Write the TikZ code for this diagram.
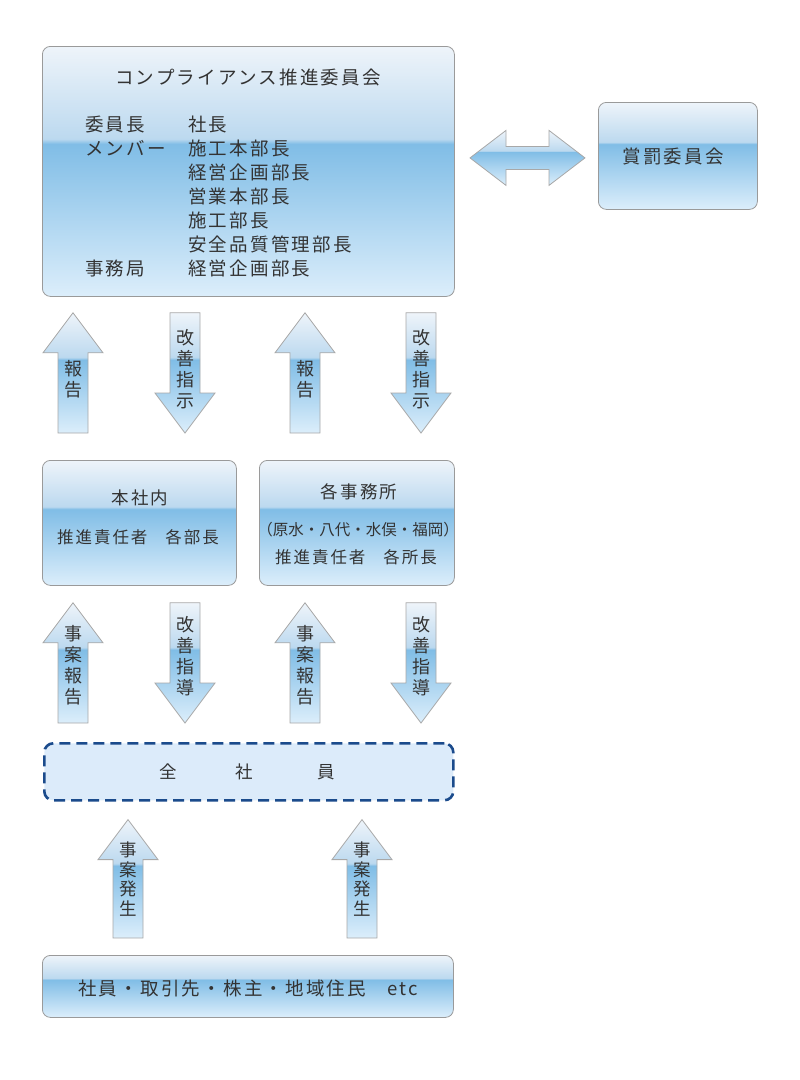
\documentclass[tikz,border=0pt]{standalone}
\usepackage{fontspec}
\setmainfont{Noto Sans CJK JP}[LetterSpace=12]
\newfontfamily\tightjp{Noto Sans CJK JP}
\usetikzlibrary{calc,positioning}
\definecolor{gtop}{HTML}{EEF4FA}
\definecolor{gtop2}{HTML}{BCD9EF}
\definecolor{gmid}{HTML}{80BDE6}
\definecolor{gbot}{HTML}{DCEEFB}
\definecolor{boxline}{HTML}{9A9A9A}
\definecolor{arrline}{HTML}{A8A8A8}
\definecolor{dblue}{HTML}{1B4B8C}
\definecolor{dfill}{HTML}{DCEBFA}
\definecolor{txt}{HTML}{333333}
\pgfdeclareverticalshading{gloss}{100bp}{color(0bp)=(gbot); color(25bp)=(gbot); color(55.5bp)=(gmid); color(56.5bp)=(gtop2); color(75bp)=(gtop); color(100bp)=(gtop)}
\newcommand\blockarr[2]{%
  \path[blk] let \p1=(#1), \p2=(#2), \p3=($(#2)!40pt!(#1)$) in
    (\x1-15pt,\y1) -- (\x1-15pt,\y3) -- (\x1-30pt,\y3) -- (\x2,\y2)
    -- (\x1+30pt,\y3) -- (\x1+15pt,\y3) -- (\x1+15pt,\y1) -- cycle;}
\newcommand\dblarr[2]{%
  \path[blk] let \p1=(#1), \p2=(#2) in
    (\x1,\y1) -- (\x1+36pt,\y1+27.5pt) -- (\x1+36pt,\y1+11.5pt) -- (\x2-36pt,\y1+11.5pt)
    -- (\x2-36pt,\y1+27.5pt) -- (\x2,\y2) -- (\x2-36pt,\y2-27.5pt) -- (\x2-36pt,\y2-11.5pt)
    -- (\x1+36pt,\y1-11.5pt) -- (\x1+36pt,\y1-27.5pt) -- cycle;}

\begin{document}
\begin{tikzpicture}[x=1pt,y=-1pt]
\tikzset{
  gbox/.style={draw=boxline,line width=0.8pt,rounded corners=8pt,shade,shading=gloss,inner sep=0pt,anchor=north west},
  dashbox/.style={draw=dblue,line width=2.6pt,dash pattern=on 11pt off 6pt,rounded corners=9pt,fill=dfill,inner sep=0pt,anchor=north west},
  blk/.style={draw=arrline,line width=0.8pt,shade,shading=gloss},
  lbl/.style={text=txt,inner sep=0pt,font=\fontsize{18.5}{24}\selectfont},
  atxt/.style={text=txt,inner sep=0pt,align=center,font=\tightjp\fontsize{18}{21}\selectfont}
}
\useasboundingbox (0,0) rectangle (800,1080);
% boxes
\node[gbox,minimum width=412pt,minimum height=250pt] (comp) at (42,46) {};
\node[gbox,minimum width=159pt,minimum height=107pt] (award) at (598,102) {};
\node[gbox,minimum width=194pt,minimum height=125pt] (hq) at (42,460) {};
\node[gbox,minimum width=195pt,minimum height=125pt] (office) at (259,460) {};
\node[dashbox,minimum width=409pt,minimum height=57pt] (staff) at (43,742) {};
\node[gbox,minimum width=411pt,minimum height=62pt] (ext) at (42,955) {};

\node[lbl] (comptitle) at (248,77) {コンプライアンス推進委員会};
\node[lbl,anchor=base west] (members) at (85,131.5) {\begin{tabular}[t]{@{}p{103pt}@{}l@{}}
委員長 & 社長\\
メンバー & 施工本部長\\
 & 経営企画部長\\
 & 営業本部長\\
 & 施工部長\\
 & 安全品質管理部長\\
事務局 & 経営企画部長
\end{tabular}};
\node[lbl] (awardtitle) at (673,157) {賞罰委員会};
\node[lbl,font=\fontsize{17.5}{21}\selectfont] (hqtitle) at (140,498) {本社内};
\node[lbl,font=\fontsize{16.5}{21}\selectfont] (hqlead) at (138,537) {推進責任者\hspace{18pt}各部長};
\node[lbl,font=\fontsize{17.5}{21}\selectfont] (offtitle) at (359,492) {各事務所};
\node[lbl,font=\tightjp\fontsize{15.5}{21}\selectfont] (offsites) at (358,530) {（原水・八代・水俣・福岡）};
\node[lbl,font=\fontsize{16.5}{21}\selectfont] (offlead) at (356,557) {推進責任者\hspace{18pt}各所長};
\node[lbl,font=\fontsize{17.5}{21}\selectfont] (stafftxt) at (247,772) {全\hspace{59pt}社\hspace{64pt}員};
\node[lbl] (exttxt) at (248,988) {社員・取引先・株主・地域住民\hspace{21pt}etc};

% block arrows
\dblarr{$(award.west)+(-128,2)$}{$(award.west)+(-13,2)$}
\blockarr{$(hq.north west)+(31,-27)$}{$(comp.south west)+(31,16)$}
\blockarr{$(comp.south west)+(143,16)$}{$(hq.north west)+(143,-27)$}
\blockarr{$(office.north west)+(46,-27)$}{$(comp.south west)+(263,16)$}
\blockarr{$(comp.south west)+(379,16)$}{$(office.north west)+(162,-27)$}
\blockarr{$(staff.north west)+(30,-19)$}{$(hq.south west)+(31,17)$}
\blockarr{$(hq.south west)+(143,17)$}{$(staff.north west)+(142,-19)$}
\blockarr{$(staff.north west)+(262,-19)$}{$(office.south west)+(46,17)$}
\blockarr{$(office.south west)+(162,17)$}{$(staff.north west)+(378,-19)$}
\blockarr{$(ext.north west)+(86,-17)$}{$(staff.south west)+(85,18)$}
\blockarr{$(ext.north west)+(320,-17)$}{$(staff.south west)+(319,18)$}

\node[atxt] (rep1) at (73,379) {報\\告};
\node[atxt] (ins1) at (185,369) {改\\善\\指\\示};
\node[atxt] (rep2) at (305,379) {報\\告};
\node[atxt] (ins2) at (421,369) {改\\善\\指\\示};
\node[atxt] (case1) at (73,665) {事\\案\\報\\告};
\node[atxt] (guide1) at (185,656) {改\\善\\指\\導};
\node[atxt] (case2) at (305,665) {事\\案\\報\\告};
\node[atxt] (guide2) at (421,656) {改\\善\\指\\導};
\node[atxt,font=\tightjp\fontsize{17.5}{19.5}\selectfont] (occ1) at (128,879) {事\\案\\発\\生};
\node[atxt,font=\tightjp\fontsize{17.5}{19.5}\selectfont] (occ2) at (362,879) {事\\案\\発\\生};
\end{tikzpicture}
\end{document}
